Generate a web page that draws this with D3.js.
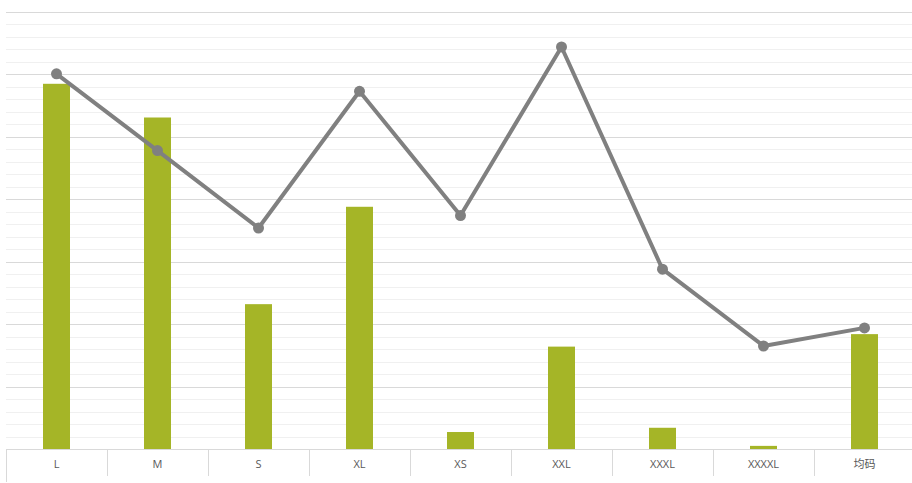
<!DOCTYPE html>
<html><head><meta charset="utf-8">
<script src="https://cdn.jsdelivr.net/npm/d3@7"></script>
<style>body{margin:0;background:#fff}svg{display:block}</style>
</head><body>
<svg id="c" width="912" height="483"></svg>
<script>
const categories = ["L","M","S","XL","XS","XXL","XXXL","XXXXL","均码"];
const barValues = [29.25, 26.55, 11.6, 19.4, 1.36, 8.2, 1.7, 0.25, 9.2];
const lineValues = [30.05, 23.9, 17.7, 28.65, 18.7, 32.2, 14.4, 8.25, 9.7];
const majorTicks = [0,5,10,15,20,25,30,35];
const minorTicks = d3.range(0, 35, 1);

(function(){
const svg = d3.select("#c");
const pL = 6, pR = 915, pT = 12, pB = 449;
const x = d3.scaleBand().domain(categories).range([pL, pR]);
const y = d3.scaleLinear().domain([0,35]).range([pB, pT]);
const y2 = d3.scaleLinear().domain([0,35]).range([pB, pT]);

svg.append("g").selectAll("line").data(minorTicks.filter(v => v % 5 !== 0)).join("line")
  .attr("x1", pL).attr("x2", pR)
  .attr("y1", d => Math.round(y(d)) + 0.5).attr("y2", d => Math.round(y(d)) + 0.5)
  .attr("stroke", "#f0f0f0").attr("stroke-width", 1);
svg.append("g").selectAll("line").data(majorTicks.filter(v => v > 0)).join("line")
  .attr("x1", pL).attr("x2", pR)
  .attr("y1", d => Math.round(y(d)) + 0.5).attr("y2", d => Math.round(y(d)) + 0.5)
  .attr("stroke", "#d9d9d9").attr("stroke-width", 1);

const bw = 27;
svg.append("g").selectAll("rect").data(barValues).join("rect")
  .attr("x", (d,i) => x(categories[i]) + x.bandwidth()/2 - bw/2)
  .attr("width", bw)
  .attr("y", d => y(d))
  .attr("height", d => y(0) - y(d))
  .attr("fill", "#a5b527");

const ax = svg.append("g");
ax.append("line").attr("x1", pL).attr("x2", pR).attr("y1", pB + 0.5).attr("y2", pB + 0.5)
  .attr("stroke", "#d9d9d9");
const bounds = categories.map(c => x(c)).concat([pR]);
ax.selectAll("line.t").data(bounds).join("line").attr("class","t")
  .attr("x1", d => Math.round(d) + 0.5).attr("x2", d => Math.round(d) + 0.5)
  .attr("y1", pB).attr("y2", (d,i) => i === 0 ? 482 : 476)
  .attr("stroke", "#d9d9d9");
ax.selectAll("text").data(categories).join("text")
  .attr("x", d => x(d) + x.bandwidth()/2)
  .attr("y", 468)
  .attr("text-anchor", "middle")
  .attr("font-family", "'Open Sans', 'Noto Sans CJK SC', sans-serif")
  .attr("font-size", 11)
  .attr("fill", "#595959")
  .text(d => d);

const line = d3.line().x((d,i) => x(categories[i]) + x.bandwidth()/2).y(d => y2(d));
svg.append("path").datum(lineValues).attr("d", line)
  .attr("fill", "none").attr("stroke", "#808080").attr("stroke-width", 4)
  .attr("stroke-linejoin", "round").attr("stroke-linecap", "round");
svg.append("g").selectAll("circle").data(lineValues).join("circle")
  .attr("cx", (d,i) => x(categories[i]) + x.bandwidth()/2)
  .attr("cy", d => y2(d))
  .attr("r", 5.5)
  .attr("fill", "#808080");
})();
</script>
</body></html>
